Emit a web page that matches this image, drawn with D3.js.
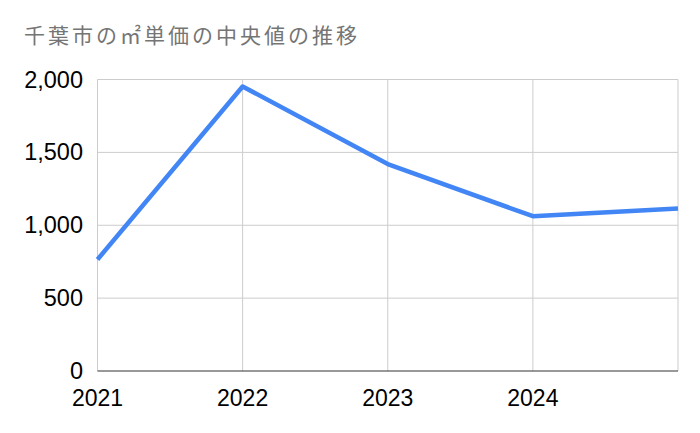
<!DOCTYPE html>
<html><head><meta charset="utf-8">
<script src="https://cdn.jsdelivr.net/npm/d3@7"></script>
<style>body{margin:0;background:#fff}svg{display:block}</style>
</head><body>
<script>
const title = "千葉市の㎡単価の中央値の推移";
const years = [2021, 2022, 2023, 2024, 2025];
const values = [765, 1952, 1420, 1062, 1115];
const yTicks = [0, 500, 1000, 1500, 2000];
const xTickLabels = ["2021", "2022", "2023", "2024"];

const W = 700, H = 433;
const m = {left: 97.5, right: 22, top: 79.5, bottom: 62};
const svg = d3.select("body").append("svg").attr("width", W).attr("height", H);

const x = d3.scaleLinear().domain([2021, 2025]).range([m.left, W - m.right]);
const y = d3.scaleLinear().domain([0, 2000]).range([H - m.bottom, m.top]);

const t = svg.append("text").attr("x", 24).attr("y", 43)
  .attr("font-family", "'Noto Sans CJK JP', sans-serif").attr("font-size", 21)
  .attr("fill", "#757575").text(title);
t.attr("textLength", 333).attr("lengthAdjust", "spacing");

// horizontal grid
svg.append("g").selectAll("line").data(yTicks.filter(d => d > 0)).join("line")
  .attr("x1", x(2021)).attr("x2", x(2025))
  .attr("y1", d => y(d)).attr("y2", d => y(d))
  .attr("stroke", "#cccccc").attr("stroke-width", 1);
// vertical grid
svg.append("g").selectAll("line").data(years).join("line")
  .attr("x1", d => x(d)).attr("x2", d => x(d))
  .attr("y1", y(0)).attr("y2", y(2000))
  .attr("stroke", "#cccccc").attr("stroke-width", 1);

// baseline
svg.append("line").attr("x1", x(2021)).attr("x2", x(2025))
  .attr("y1", y(0)).attr("y2", y(0)).attr("stroke", "#333333").attr("stroke-width", 1);

// y labels
svg.append("g").selectAll("text").data(yTicks).join("text")
  .attr("x", 83).attr("y", d => y(d) + 8)
  .attr("text-anchor", "end")
  .attr("font-family", "'Liberation Sans', Arial, sans-serif").attr("font-size", 23.5)
  .attr("fill", "#000").text(d => d3.format(",")(d));

// x labels
svg.append("g").selectAll("text").data(xTickLabels).join("text")
  .attr("x", d => x(+d)).attr("y", 405.5)
  .attr("text-anchor", "middle")
  .attr("font-family", "'Liberation Sans', Arial, sans-serif").attr("font-size", 23)
  .attr("fill", "#000").text(d => d);

const line = d3.line().x((d, i) => x(years[i])).y(d => y(d));
svg.append("path").datum(values).attr("d", line)
  .attr("fill", "none").attr("stroke", "#4285F4").attr("stroke-width", 4.5)
  .attr("stroke-linejoin", "round");
</script>
</body></html>
